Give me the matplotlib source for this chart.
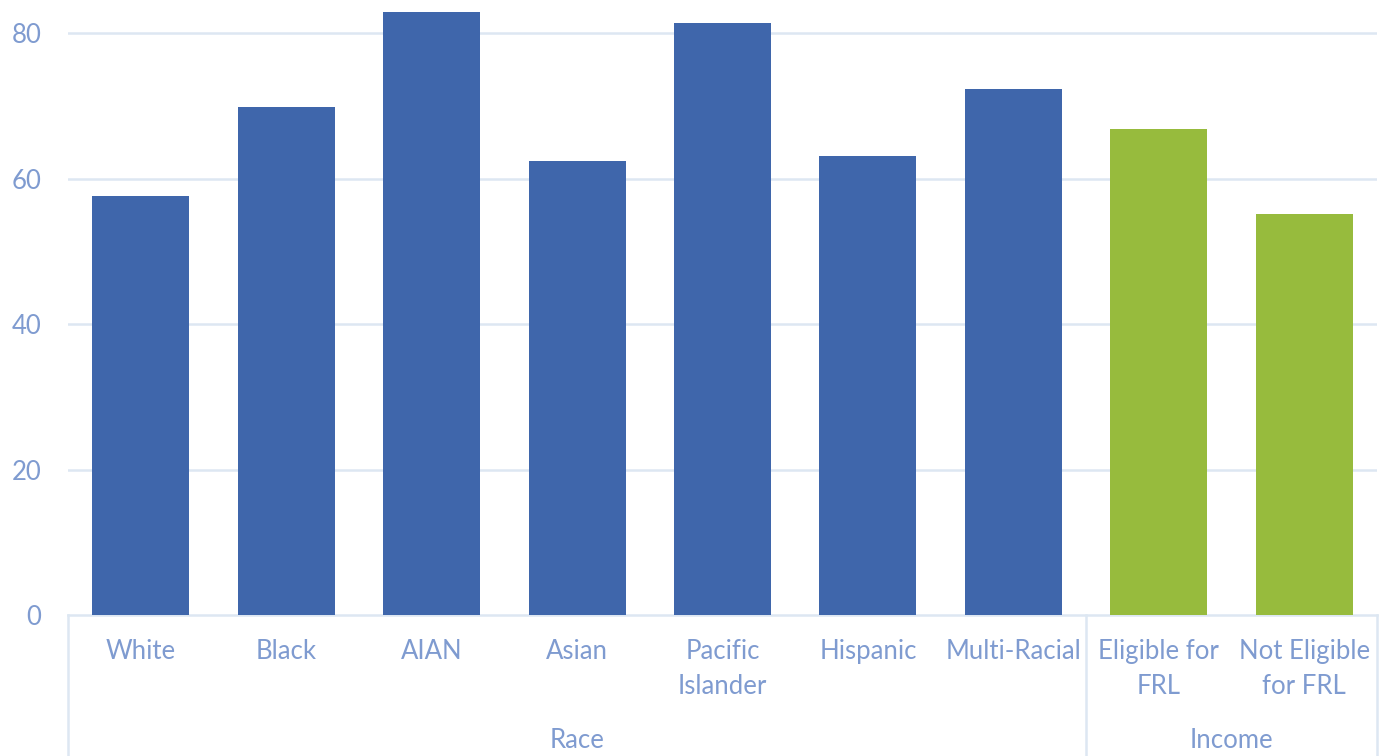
import numpy as np
import matplotlib.pyplot as plt

categories = ["White", "Black", "AIAN", "Asian", "Pacific\nIslander", "Hispanic",
              "Multi-Racial", "Eligible for\nFRL", "Not Eligible\nfor FRL"]
values = [57.6, 69.9, 82.9, 62.5, 81.5, 63.2, 72.3, 66.9, 55.1]
groups = ["Race"] * 7 + ["Income"] * 2
yticks = [0, 20, 40, 60, 80]

BLUE = "#3f66ab"
GREEN = "#97bb3d"
TEXT = "#7f9bd0"
GRID = "#dde7f2"

plt.rcParams["font.family"] = ["Lato", "DejaVu Sans"]

fig = plt.figure(figsize=(13.84, 7.56), dpi=100)
ax = fig.add_axes([68 / 1384, 1 - 615 / 756, 1309 / 1384, 615 / 756])

x = np.arange(len(categories))
colors = [BLUE if g == "Race" else GREEN for g in groups]
ax.bar(x, values, width=0.667, color=colors, zorder=3)

ax.set_xlim(-0.5, len(categories) - 0.5)
ax.set_ylim(0, 84.6)
ax.set_yticks(yticks)
ax.set_yticklabels([str(t) for t in yticks])
ax.tick_params(axis="y", length=0, pad=19, labelsize=18.5, labelcolor=TEXT)
for t in yticks[1:]:
    ax.axhline(t, color=GRID, lw=1.8, zorder=1)

ax.set_xticks(x)
ax.set_xticklabels(categories, linespacing=1.5)
ax.tick_params(axis="x", length=0, pad=17, labelsize=18.5, labelcolor=TEXT)

for s in ["top", "right", "left"]:
    ax.spines[s].set_visible(False)
ax.spines["bottom"].set_color(GRID)
ax.spines["bottom"].set_linewidth(1.8)

# group separators and labels below the axis
trans = ax.get_xaxis_transform()
for sep in [-0.5, 6.5, len(categories) - 0.5]:
    ax.plot([sep, sep], [0, -0.235], color=GRID, lw=1.8, transform=trans, clip_on=False)

for name in ["Race", "Income"]:
    idx = [i for i, g in enumerate(groups) if g == name]
    ax.text(np.mean(idx), -0.2045, name, transform=trans, ha="center", va="center",
            fontsize=18.5, color=TEXT)

fig.savefig("out.png", dpi=100)
